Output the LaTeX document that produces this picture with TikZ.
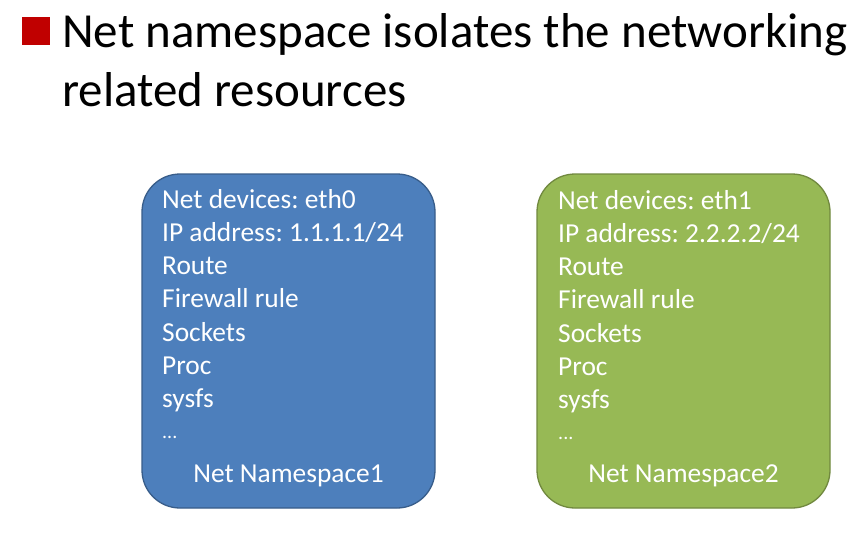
\documentclass[tikz,border=0pt]{standalone}
\usepackage{fontspec}
\setmainfont{Carlito}
\frenchspacing
\definecolor{bulletred}{HTML}{C00000}
\definecolor{nsblue}{HTML}{4D7FBC}
\definecolor{nsblueedge}{HTML}{385D8A}
\definecolor{nsgreen}{HTML}{97B955}
\definecolor{nsgreenedge}{HTML}{71893F}
\begin{document}
\begin{tikzpicture}[x=1pt,y=-1pt,
  title/.style={anchor=base west, inner sep=0pt, font=\fontsize{49}{58}\selectfont, text=black},
  item/.style={anchor=base west, inner sep=0pt, font=\fontsize{27.4}{32}\selectfont, text=white},
  nsbox/.style={rectangle, rounded corners=38pt, line width=1.3pt, minimum width=293pt, minimum height=334pt, inner sep=0pt}]
\useasboundingbox (0,0) rectangle (858,538);
\fill[white] (0,0) rectangle (858,538);
% heading with square bullet
\node[fill=bulletred, minimum size=28pt, inner sep=0pt, anchor=north west] (bullet) at (22,17) {};
\node[title] (t1) at (62,47) {Net namespace isolates the networking};
\node[title] (t2) at (62,106) {related resources};
% the two namespaces
\node[nsbox, fill=nsblue, draw=nsblueedge] (ns1) at (288.5,341) {};
\node[nsbox, fill=nsgreen, draw=nsgreenedge] (ns2) at (683.5,341) {};
\foreach \t [count=\i] in {Net devices: eth0, IP address: 1.1.1.1/24, Route, Firewall rule, Sockets, Proc, sysfs}
  \node[item] (a\i) at (162,{208+33.3*(\i-1)}) {\t};
\node[item, font=\fontsize{20}{24}\selectfont] (a8) at (162,438) {...};
\foreach \t [count=\i] in {Net devices: eth1, IP address: 2.2.2.2/24, Route, Firewall rule, Sockets, Proc, sysfs}
  \node[item] (b\i) at (558,{209+33.3*(\i-1)}) {\t};
\node[item, font=\fontsize{20}{24}\selectfont] (b8) at (558,439) {...};
\node[item, anchor=base] (n1) at (288.5,482) {Net Namespace1};
\node[item, anchor=base] (n2) at (683.5,482) {Net Namespace2};
\end{tikzpicture}
\end{document}
